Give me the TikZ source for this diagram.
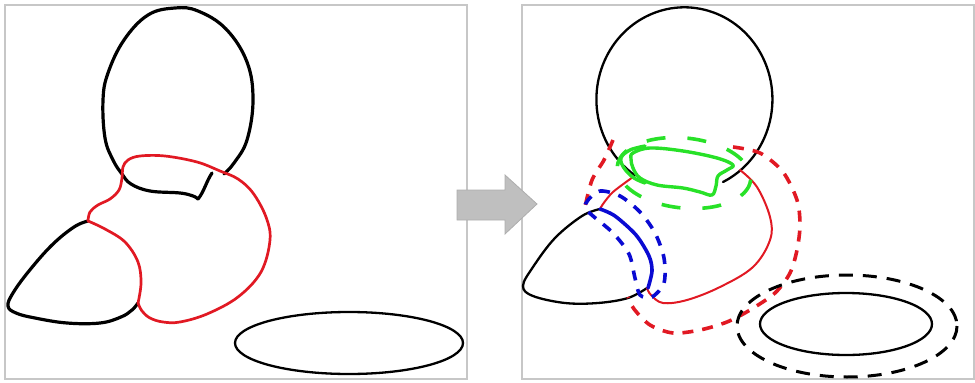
\documentclass[tikz,border=0pt]{standalone}
\definecolor{myred}{RGB}{225,25,35}
\definecolor{mygreen}{RGB}{40,225,40}
\definecolor{myblue}{RGB}{10,10,210}
\begin{document}
\begin{tikzpicture}[x=1pt,y=-1pt,
  frame/.style={draw=black!22, line width=1.8pt},
  blk/.style={draw=black, line width=3.2pt, line join=round, line cap=round},
  blkthin/.style={draw=black, line width=2.3pt, line join=round, line cap=round},
  redl/.style={draw=myred, line width=2.7pt, line join=round, line cap=round},
  redthin/.style={draw=myred, line width=2pt, line join=round, line cap=round},
  bluel/.style={draw=myblue, line width=3.6pt, line cap=round},
  greenl/.style={draw=mygreen, line width=3.4pt, line join=round, line cap=round},
  redd/.style={draw=myred, line width=3.6pt, dash pattern=on 11pt off 9pt},
  blued/.style={draw=myblue, line width=3.6pt, dash pattern=on 10pt off 9pt},
  greend/.style={draw=mygreen, line width=3.6pt, dash pattern=on 19pt off 22pt},
  blkd/.style={draw=black, line width=3pt, dash pattern=on 14pt off 10pt},
  arrowbox/.style={fill=black!25, draw=black!32, line width=0.8pt}
]
\useasboundingbox (0,0) rectangle (975,383);
% panel frames
\draw[frame] (5,5) rectangle (467,379);
\draw[frame] (522,5) rectangle (974,379);
% arrow
\draw[arrowbox] (457,190) -- (505,190) -- (505,175) -- (537,204) -- (505,234) -- (505,220) -- (457,220) -- cycle;

% ---------- left panel ----------
\draw[blk] plot[smooth,tension=0.65] coordinates {(224,174) (234,163) (247,140) (253,100) (247,62) (226,29) (198,11) (175,8) (148,15) (124,40) (108,73) (103,100) (105,138) (113,160) (122,174) (131,184) (150,191) (180,193) (193,196) (198,199)};
\draw[blk] (198,199) .. controls (204,192) and (206,182) .. (212,173);
\draw[blk] plot[smooth,tension=0.65] coordinates {(88,221) (74,227) (52,245) (29,271) (13,293) (8,306) (16,313) (35,318) (67,323) (100,323) (121,317) (132,310) (138,303)};
\draw[redl] plot[smooth,tension=0.6] coordinates {(88,221) (90,212) (98,205) (110,199) (119,190) (122,178) (123,167) (128,160) (140,156) (165,156) (197,162) (220,171) (238,179) (253,193) (266,217) (270,240) (261,272) (238,297) (207,314) (180,322) (163,322) (150,318) (142,311) (138,303)};
\draw[redl] plot[smooth,tension=0.6] coordinates {(138,303) (141,283) (138,262) (125,242) (105,229) (88,221)};
\draw[blkthin] (349,343) ellipse [x radius=114, y radius=31];

% ---------- right panel ----------
\draw[blkthin] (723,182) arc[start angle=64, end angle=-236, x radius=88, y radius=92];
\draw[blkthin] plot[smooth,tension=0.6] coordinates {(600,209) (582,216) (555,238) (533,267) (523,286) (533,296) (565,303) (598,303) (628,298) (647,288)};
\draw[redthin] plot[smooth,tension=0.6] coordinates {(740,170) (757,187) (770,217) (770,240) (753,267) (720,287) (687,300) (663,303) (651,295) (647,288)};
\draw[redthin] plot[smooth] coordinates {(633,177) (613,192) (603,204) (600,209)};
\draw[bluel] plot[smooth] coordinates {(600,209) (615,216) (636,235) (649,256) (652,271) (648,288)};
\draw[greenl] plot[smooth cycle,tension=0.6] coordinates {(633,153) (650,148) (683,151) (717,158) (733,165) (727,170) (718,176) (716,186) (712,195) (700,192) (683,188) (657,185) (640,178) (633,168) (631,159)};
\draw[greenl] plot[smooth,tension=0.6] coordinates {(645,146) (630,150) (621,158) (624,168) (634,178) (645,183)};
\draw[greend, rotate around={-6:(684,173)}] (684,173) ellipse [x radius=67, y radius=35];
\draw[redd] plot[smooth] coordinates {(613,140) (604,160) (592,180) (585,207)};
\draw[redd] plot[smooth] coordinates {(733,147) (760,153) (783,172) (797,200) (800,225) (797,250) (790,273) (775,293) (750,310) (727,322) (700,330) (673,333) (650,325) (634,309) (628,297)};
\draw[blued] plot[smooth cycle] coordinates {(588,200) (600,191) (620,196) (640,212) (655,233) (664,258) (664,283) (652,297) (640,295) (635,278) (629,254) (613,233) (593,216) (585,208)};
\draw[blkd] (847,326) ellipse [x radius=110, y radius=51];
\draw[blkthin] (846,324) ellipse [x radius=86, y radius=31];
\end{tikzpicture}
\end{document}
